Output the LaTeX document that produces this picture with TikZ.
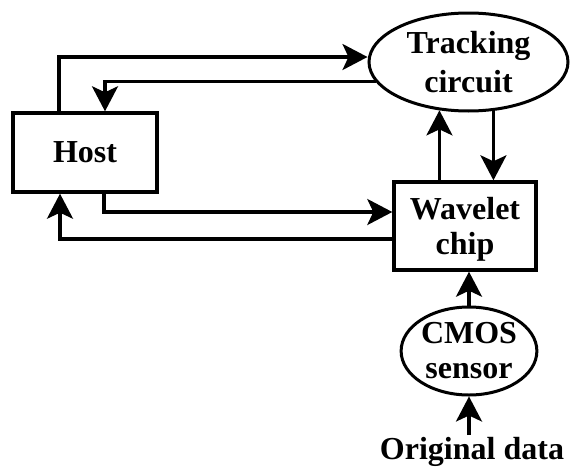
\documentclass[tikz,border=0pt]{standalone}
\usepackage{fontspec}
\setmainfont{Liberation Serif}
\usetikzlibrary{arrows.meta,shapes.geometric}

\tikzset{
  lbl/.style={font=\bfseries\fontsize{32}{35}\selectfont, align=center},
  blockbox/.style={lbl, draw, line width=3.4pt, inner sep=0pt},
  roundbox/.style={lbl, draw, ellipse, line width=3pt, inner sep=0pt},
  flow/.style={line width=3.2pt, -{Stealth[length=25pt, width=26pt, inset=6pt]}},
}

\begin{document}
\begin{tikzpicture}[x=1pt, y=-1pt]
  \useasboundingbox (0,0) rectangle (570,466);

  % blocks
  \node[blockbox, minimum width=144pt, minimum height=79pt] (host) at (85,152.5) {Host};
  \node[roundbox, minimum width=199pt, minimum height=98pt] (trk) at (468.5,62) {Tracking\\[4pt]circuit};
  \node[blockbox, minimum width=142pt, minimum height=88pt, text depth=0pt] (wav) at (465,226) {Wavelet\\chip};
  \node[roundbox, minimum width=135pt, minimum height=88pt] (cmos) at (469,351) {CMOS\\sensor};
  \node[lbl, inner sep=2pt] (orig) at (472,452) {Original data};

  % host <-> tracking circuit
  \draw[flow] (host.north -| 59,0) |- (trk.west |- 0,57);
  \draw[flow] (trk.192) -| (host.north -| 105,0);

  % wavelet chip <-> tracking circuit
  \draw[flow] (wav.north -| trk.239) -- (trk.239);
  \draw[flow] (trk.297) -- (trk.297 |- wav.north);

  % host <-> wavelet chip
  \draw[flow] (host.south -| 104,0) |- (wav.west |- 0,212);
  \draw[flow] (wav.west |- 0,239) -| (host.south -| 60,0);

  % sensor chain
  \draw[flow] (cmos.north) -- (cmos.north |- wav.south);
  \draw[flow] (orig.north -| cmos.south) -- (cmos.south);
\end{tikzpicture}
\end{document}
